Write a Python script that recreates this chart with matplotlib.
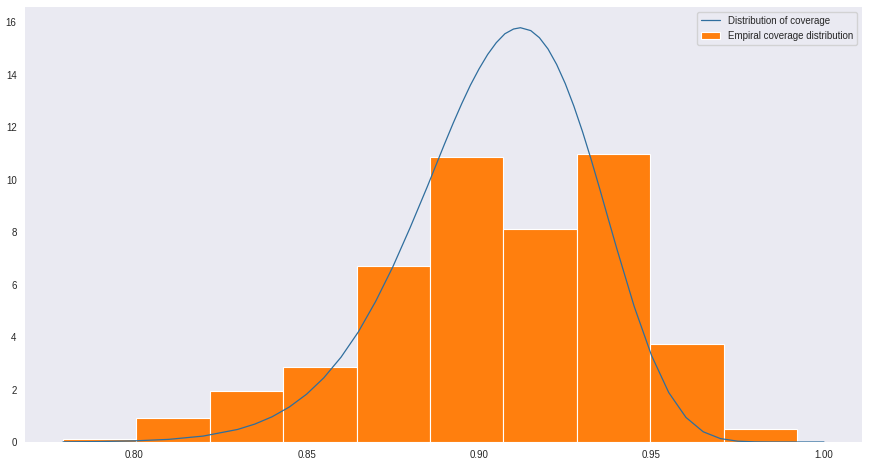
import matplotlib
matplotlib.use("Agg")
import matplotlib.pyplot as plt
import seaborn as sns

# Histogram (density)
bin_edges = [0.7794, 0.80068, 0.82196, 0.84325, 0.86453, 0.88581,
             0.90709, 0.92837, 0.94966, 0.97094, 0.99222]
bin_heights = [0.12, 0.90, 1.94, 2.85, 6.72, 10.88, 8.10, 10.98, 3.74, 0.48]

# Theoretical coverage distribution curve
curve_x = [0.7794, 0.790, 0.800, 0.810, 0.820, 0.830, 0.835, 0.840,
           0.845, 0.850, 0.855, 0.860, 0.865, 0.870, 0.875, 0.880,
           0.885, 0.890, 0.8925, 0.895, 0.8975, 0.900, 0.9025, 0.905,
           0.9075, 0.910, 0.912, 0.915, 0.9175, 0.920, 0.9225, 0.925,
           0.9275, 0.930, 0.9325, 0.935, 0.9375, 0.940, 0.945, 0.950,
           0.955, 0.960, 0.965, 0.970, 0.975, 0.980, 0.985, 0.990, 1.000]
curve_y = [0.006, 0.018, 0.043, 0.10, 0.225, 0.478, 0.683, 0.961,
           1.334, 1.821, 2.446, 3.234, 4.194, 5.351, 6.674, 8.162,
           9.731, 11.36, 12.15, 12.90, 13.60, 14.22, 14.77, 15.22,
           15.56, 15.74, 15.79, 15.68, 15.41, 14.98, 14.39, 13.66,
           12.80, 11.83, 10.77, 9.646, 8.49, 7.344, 5.160, 3.301,
           1.885, 0.936, 0.389, 0.129, 0.031, 0.005, 0.0005, 0.0, 0.0]

sns.set_style("dark")
plt.rcParams['font.family'] = ['Liberation Sans', 'DejaVu Sans']

fig = plt.figure(figsize=(8.69, 4.65), dpi=100)
ax = fig.add_axes([25 / 869, 1 - 442 / 465, (862 - 25) / 869, (442 - 7) / 465])

ax.plot(curve_x, curve_y, color='#2f6e9e', lw=0.9, label='Distribution of coverage')
lefts = bin_edges[:-1]
widths = [b - a for a, b in zip(bin_edges[:-1], bin_edges[1:])]
ax.bar(lefts, bin_heights, width=widths, align='edge', color='#ff7f0e',
       edgecolor='white', linewidth=0.8, label='Empiral coverage distribution')

ax.set_xticks([0.80, 0.85, 0.90, 0.95, 1.00])
ax.set_xticklabels(['0.80', '0.85', '0.90', '0.95', '1.00'])
ax.set_yticks([0, 2, 4, 6, 8, 10, 12, 14, 16])
ax.tick_params(labelsize=7, colors='#262626', length=0, pad=6)
for s in ax.spines.values():
    s.set_visible(False)
ax.legend(loc='upper right', fontsize=7, frameon=True)

fig.savefig('out.png', dpi=100)
